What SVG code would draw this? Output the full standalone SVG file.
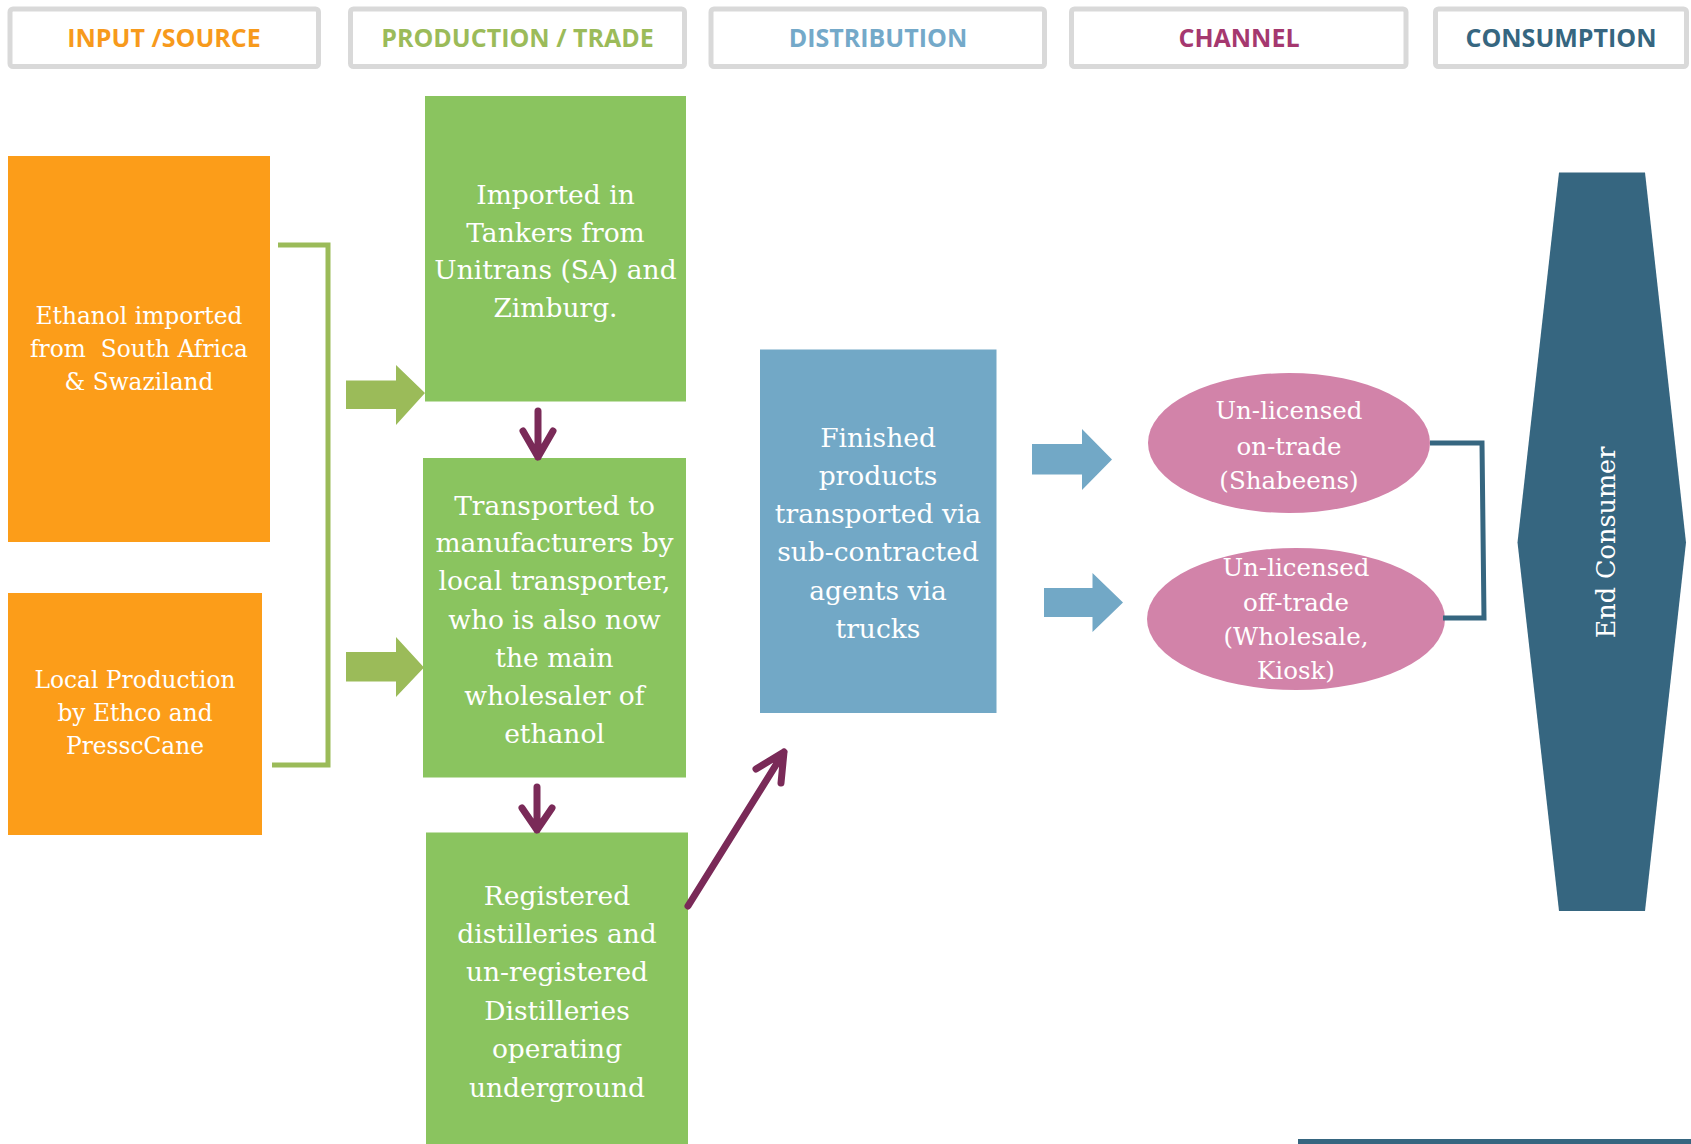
<svg xmlns="http://www.w3.org/2000/svg" width="1691" height="1144" viewBox="0 0 1691 1144">
<style>
.hdr{fill:#fff;stroke:#d9d9d9;stroke-width:5}
.ht{font-family:"Open Sans","Noto Sans",sans-serif;font-weight:bold;font-size:25px;text-anchor:middle}
.bt{font-family:"DejaVu Serif","Liberation Serif",serif;fill:#fff;text-anchor:middle}
.fs22{font-size:23.3px}
.fs26{font-size:26.5px}
.fs24{font-size:24.5px}
.org{fill:#fc9d19}
.grn{fill:#8ac45f}
.blu{fill:#72a8c6}
.pnk{fill:#d283a9}
.dk{fill:#366680}
.garrow{fill:#9bbb59}
.barrow{fill:#72a8c6}
.parrow{fill:none;stroke:#7a2a58;stroke-width:7;stroke-linecap:round;stroke-linejoin:round}
.gbr{fill:none;stroke:#9bbb59;stroke-width:5}
.dbr{fill:none;stroke:#366680;stroke-width:5}
</style>
<rect width="1691" height="1144" fill="#fff"/>

<g id="headers">
  <g id="h-input"><rect class="hdr" x="10" y="9" width="308.5" height="57.5" rx="3"/><text class="ht" x="164" y="46.5" fill="#f79a1c">INPUT /SOURCE</text></g>
  <g id="h-production"><rect class="hdr" x="350.5" y="9" width="334" height="57.5" rx="3"/><text class="ht" x="517.5" y="46.5" fill="#9bbb59">PRODUCTION / TRADE</text></g>
  <g id="h-distribution"><rect class="hdr" x="711" y="9" width="333.5" height="57.5" rx="3"/><text class="ht" x="878" y="46.5" fill="#74a9c9">DISTRIBUTION</text></g>
  <g id="h-channel"><rect class="hdr" x="1071.5" y="9" width="334.5" height="57.5" rx="3"/><text class="ht" x="1239" y="46.5" fill="#a5386f">CHANNEL</text></g>
  <g id="h-consumption"><rect class="hdr" x="1435.5" y="9" width="251" height="57.5" rx="3"/><text class="ht" x="1561" y="46.5" fill="#366680">CONSUMPTION</text></g>
</g>

<g id="n-ethanol-import">
  <rect class="org" x="8" y="156" width="262" height="386"/>
  <text class="bt fs22" x="139" y="324">Ethanol imported</text>
  <text class="bt fs22" x="139" y="357" xml:space="preserve">from  South Africa</text>
  <text class="bt fs22" x="139" y="390">&amp; Swaziland</text>
</g>

<g id="n-local-production">
  <rect class="org" x="8" y="593" width="254" height="242"/>
  <text class="bt fs22" x="135" y="688">Local Production</text>
  <text class="bt fs22" x="135" y="721">by Ethco and</text>
  <text class="bt fs22" x="135" y="754">PresscCane</text>
</g>

<g id="n-imported-tankers">
  <rect class="grn" x="425" y="96" width="261" height="305.5"/>
  <text class="bt fs26" x="555.5" y="204">Imported in</text>
  <text class="bt fs26" x="555.5" y="241.5">Tankers from</text>
  <text class="bt fs26" x="555.5" y="279">Unitrans (SA) and</text>
  <text class="bt fs26" x="555.5" y="317">Zimburg.</text>
</g>

<g id="n-transported">
  <rect class="grn" x="423" y="458" width="263" height="319.5"/>
  <text class="bt fs26" x="554.5" y="515">Transported to</text>
  <text class="bt fs26" x="554.5" y="552">manufacturers by</text>
  <text class="bt fs26" x="554.5" y="590">local transporter,</text>
  <text class="bt fs26" x="554.5" y="629">who is also now</text>
  <text class="bt fs26" x="554.5" y="667">the main</text>
  <text class="bt fs26" x="554.5" y="705">wholesaler of</text>
  <text class="bt fs26" x="554.5" y="743">ethanol</text>
</g>

<g id="n-distilleries">
  <rect class="grn" x="426" y="832.5" width="262" height="311.5"/>
  <text class="bt fs26" x="557" y="905">Registered</text>
  <text class="bt fs26" x="557" y="943">distilleries and</text>
  <text class="bt fs26" x="557" y="981">un-registered</text>
  <text class="bt fs26" x="557" y="1020">Distilleries</text>
  <text class="bt fs26" x="557" y="1058">operating</text>
  <text class="bt fs26" x="557" y="1097">underground</text>
</g>

<g id="n-finished-products">
  <rect class="blu" x="760" y="349.5" width="236.5" height="363.5"/>
  <text class="bt fs26" x="878" y="447">Finished</text>
  <text class="bt fs26" x="878" y="485">products</text>
  <text class="bt fs26" x="878" y="523">transported via</text>
  <text class="bt fs26" x="878" y="561">sub-contracted</text>
  <text class="bt fs26" x="878" y="600">agents via</text>
  <text class="bt fs26" x="878" y="638">trucks</text>
</g>

<g id="n-on-trade">
  <ellipse class="pnk" cx="1289" cy="443" rx="141" ry="70"/>
  <text class="bt fs24" x="1289" y="419">Un-licensed</text>
  <text class="bt fs24" x="1289" y="455">on-trade</text>
  <text class="bt fs24" x="1289" y="489">(Shabeens)</text>
</g>

<g id="n-off-trade">
  <ellipse class="pnk" cx="1296" cy="619" rx="149" ry="71"/>
  <text class="bt fs24" x="1296" y="576">Un-licensed</text>
  <text class="bt fs24" x="1296" y="611">off-trade</text>
  <text class="bt fs24" x="1296" y="645">(Wholesale,</text>
  <text class="bt fs24" x="1296" y="679">Kiosk)</text>
</g>

<g id="n-end-consumer">
  <polygon class="dk" points="1559,172.5 1645,172.5 1686,542.5 1645,911 1559,911 1517.5,542.5"/>
  <text class="bt" font-size="25.5" transform="translate(1615,542.5) rotate(-90)" x="0" y="0">End Consumer</text>
</g>

<g id="connectors">
  <polyline class="gbr" points="278,245 328,245 328,765 272,765"/>
  <polygon class="garrow" points="346,380.5 396,380.5 396,365 425,393 396,425 396,409 346,409"/>
  <polygon class="garrow" points="346,652 396,652 396,637 424,667.5 396,697 396,681.5 346,681.5"/>
  <path class="parrow" d="M538,411 L538,457 M523,431 L538,457 L553,431"/>
  <path class="parrow" d="M537,787 L537,830 M522,808 L537,830 L552,808"/>
  <path class="parrow" d="M688,906 L784,752 M756,769 L784,752 L781,783"/>
  <polygon class="barrow" points="1032,444 1082,444 1082,429 1112,459.5 1082,490 1082,474.5 1032,474.5"/>
  <polygon class="barrow" points="1044,588 1092.5,588 1092.5,573 1123,602.5 1092.5,632 1092.5,617 1044,617"/>
  <polyline class="dbr" points="1430,443 1482,443 1484,618 1443,618"/>
</g>

<rect id="footer-band" class="dk" x="1298" y="1139" width="393" height="5"/>
</svg>
